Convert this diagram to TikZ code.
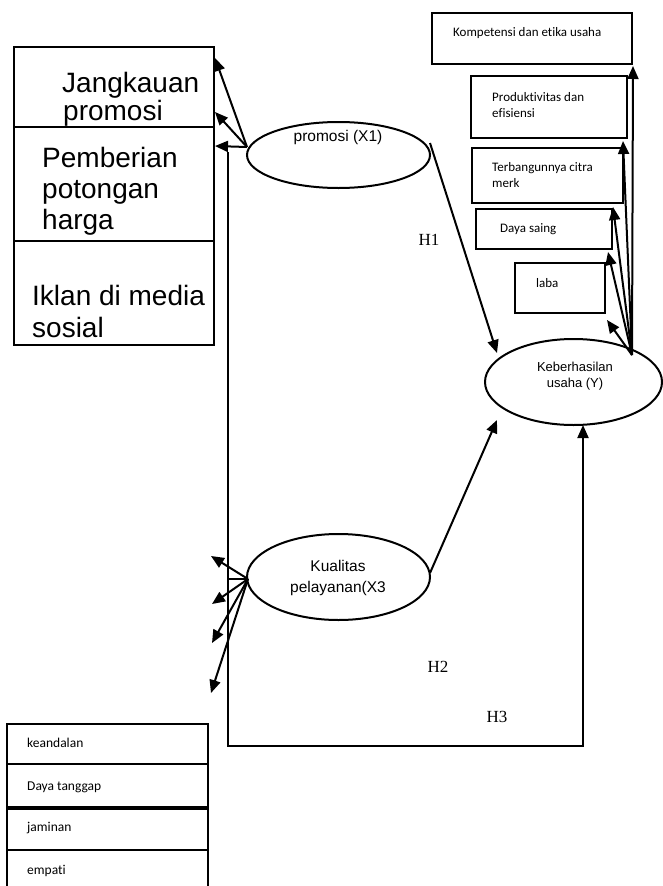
\documentclass[tikz,border=0pt]{standalone}
\usepackage{fontspec}
\setmainfont{Liberation Sans}
\newfontfamily\calib[Ligatures=NoCommon]{Carlito}
\newfontfamily\timesf{Liberation Serif}
\usetikzlibrary{arrows.meta,shapes.geometric,calc}
\begin{document}
\begin{tikzpicture}[x=1pt,y=-1pt,
 arr/.style={line width=2pt,-{Triangle[length=13pt,width=11pt]}},
 ln/.style={line width=2pt},
 box/.style={draw,line width=2pt,rectangle,inner sep=0,outer sep=0,anchor=north west},
 ell/.style={draw,line width=2pt,ellipse,inner sep=0,outer sep=0},
 bigt/.style={font=\fontsize{28}{30}\selectfont,anchor=base west,inner sep=0},
 smt/.style={font=\calib\fontsize{13}{15}\selectfont,anchor=west,inner sep=0},
 ht/.style={font=\timesf\fontsize{17}{19}\selectfont,inner sep=0},
 et/.style={font=\fontsize{15.5}{21}\selectfont,align=center,inner sep=0}]
\useasboundingbox (0,0) rectangle (663,886);

% left indicator boxes (promosi)
\node[box,minimum width=200pt,minimum height=80pt] (j1) at (14,47) {};
\node[box,minimum width=200pt,minimum height=114pt] (j2) at (14,127) {};
\node[box,minimum width=200pt,minimum height=104pt] (j3) at (14,241) {};
\node[bigt] (t1a) at (62,92) {Jangkauan};
\node[bigt] (t1b) at (63,120) {promosi};
\node[bigt] (t2a) at (42,167) {Pemberian};
\node[bigt] (t2b) at (42,198) {potongan};
\node[bigt] (t2c) at (42,229) {harga};
\node[bigt] (t3a) at (32,305) {Iklan di media};
\node[bigt] (t3b) at (32,337) {sosial};

% ellipses
\node[ell,minimum width=183pt,minimum height=66pt] (P) at (338.5,155) {};
\node[et] (Pt) at (338,137) {promosi (X1)};
\node[ell,minimum width=183pt,minimum height=86pt] (K) at (338.5,577) {};
\node[et] (Kt) at (338,578) {Kualitas\\pelayanan(X3};
\node[ell,minimum width=177pt,minimum height=86pt] (Y) at (573.5,382) {};
\node[et,font=\fontsize{13}{15.5}\selectfont] (Yt) at (575,376) {Keberhasilan\\usaha (Y)};

% top right boxes
\node[box,minimum width=200pt,minimum height=51pt] (k1) at (432,13) {};
\node[box,minimum width=156pt,minimum height=62pt] (k2) at (471,76) {};
\node[box,minimum width=151pt,minimum height=55pt] (k3) at (472,148) {};
\node[box,minimum width=136pt,minimum height=40pt] (k4) at (476,209) {};
\node[box,minimum width=90pt,minimum height=50pt] (k5) at (515,263) {};
\node[smt] (k1t) at (453,33) {Kompetensi dan etika usaha};
\node[smt] (k2a) at (492,97) {Produktivitas dan};
\node[smt] (k2b) at (492,113) {efisiensi};
\node[smt] (k3a) at (492,168) {Terbangunnya citra};
\node[smt] (k3b) at (492,183) {merk};
\node[smt] (k4t) at (500,229) {Daya saing};
\node[smt] (k5t) at (536,283) {laba};

% bottom left boxes
\node[box,minimum width=201pt,minimum height=40pt] (b1) at (7,724) {};
\node[box,minimum width=201pt,minimum height=43pt] (b2) at (7,764) {};
\node[box,minimum width=201pt,minimum height=41pt] (b3) at (7,809) {};
\node[box,minimum width=201pt,minimum height=50pt] (b4) at (7,850) {};
\node[smt,font=\calib\fontsize{13.5}{15}\selectfont] (b1t) at (27,743) {keandalan};
\node[smt,font=\calib\fontsize{13.5}{15}\selectfont] (b2t) at (27,787) {Daya tanggap};
\node[smt,font=\calib\fontsize{13.5}{15}\selectfont] (b3t) at (27,828) {jaminan};
\node[smt,font=\calib\fontsize{13.5}{15}\selectfont] (b4t) at (27,871) {empati};

% hypothesis labels
\node[ht] (H1) at (429,240) {H1};
\node[ht] (H2) at (438,667) {H2};
\node[ht] (H3) at (497,717) {H3};

% promosi -> indicators
\coordinate (po) at ($(P.west)+(0,-8)$);
\draw[arr] (po) -- ($(j1.north east)+(1,11)$);
\draw[arr] (po) -- ($(j1.south east)+(1,-15)$);
\draw[arr] (po) -- ($(j2.north east)+(1,19)$);

% H3 path
\coordinate (hv) at ($(j2.north east)+(14,25)$);
\coordinate (hc) at (583,746);
\draw[arr] (hv) |- (hc) -- (hc |- Y.south);

% H1, H2
\draw[arr] ($(P.east)+(0,-12)$) -- ($(Y.west)+(12,-29)$);
\draw[arr] ($(K.east)+(0,-4)$) -- ($(Y.west)+(12,38)$);

% kualitas -> indicators
\coordinate (ko) at ($(K.west)+(1,2)$);
\draw[ln] (ko) -- (ko -| hv);
\draw[arr] (ko) -- ($(K.west)+(-36,-21)$);
\draw[arr] (ko) -- ($(K.west)+(-35,27)$);
\draw[arr] (ko) -- ($(K.west)+(-35,66)$);
\draw[arr] (ko) -- ($(K.west)+(-36,116)$);

% keberhasilan -> indicators
\coordinate (yo) at ($(Y.center)+(58.5,-27)$);
\draw[arr] (yo) -- ($(k1.south east)+(1,2)$);
\draw[arr] (yo) -- ($(k2.south east)+(-4,3)$);
\draw[arr] (yo) -- ($(k3.south east)+(-10,4)$);
\draw[arr] (yo) -- ($(k4.south east)+(-4,3)$);
\draw[arr] (yo) -- ($(k5.south east)+(2,7)$);
\end{tikzpicture}
\end{document}
